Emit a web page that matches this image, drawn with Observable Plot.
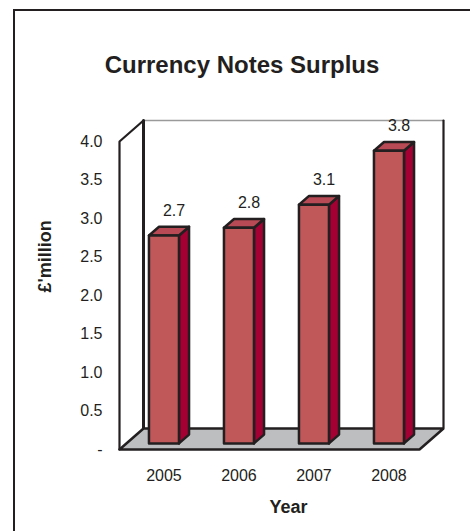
<!DOCTYPE html>
<html><head><meta charset="utf-8">
<script src="https://cdn.jsdelivr.net/npm/d3@7"></script>
<script src="https://cdn.jsdelivr.net/npm/@observablehq/plot@0.6"></script>
<style>
body{margin:0;background:#fff;}
#wrap{position:relative;width:470px;height:531px;overflow:hidden;background:#fff;}
#frame{position:absolute;left:13px;top:9px;width:600px;height:600px;border-left:2.5px solid #231F20;border-top:2.5px solid #231F20;}
#chart{position:absolute;left:0;top:0;}
</style></head><body>
<div id="wrap"><div id="frame"></div><div id="chart"></div></div>
<script>
// ---- data ----
const years = ["2005", "2006", "2007", "2008"];
const values = [2.7, 2.8, 3.1, 3.8];
const yTicks = [0, 0.5, 1, 1.5, 2, 2.5, 3, 3.5, 4];
const title = "Currency Notes Surplus";
const yLabel = "£'million";
const xLabel = "Year";

// ---- oblique 3D projection in data units ----
const DX = 0.32;   // x shift for full depth
const DY = 0.2727; // y shift for full depth
const D0 = 0.29, D1 = 0.71; // bar front / back depth
const P = (x, y, d) => ({x: x + DX * d, y: y + DY * d});
const N = years.length, YMAX = 4;

function poly(id, pts) { return [...pts, pts[0]].map(p => ({id, ...p})); }

const backWallFill = poly("bw", [P(0,0,1), P(0,YMAX,1), P(N,YMAX,1), P(N,0,1)]);
const leftWallFill = poly("lw", [P(0,0,0), P(0,YMAX,0), P(0,YMAX,1), P(0,0,1)]);
const floor = poly("fl", [P(0,0,0), P(N,0,0), P(N,0,1), P(0,0,1)]);
const backTop = [P(0,YMAX,1), P(N,YMAX,1)].map(p => ({id:"bt", ...p}));
const darkEdges = [
  ...[P(N,YMAX,1), P(N,0,1)].map(p => ({id:"br", ...p})),
  ...[P(0,0,0), P(0,YMAX,0), P(0,YMAX,1)].map(p => ({id:"lf", ...p}))
];
const backLeft = [P(0,YMAX,1), P(0,0,1)].map(p => ({id:"bl", ...p}));

const fronts = [], sides = [], tops = [];
values.forEach((v, i) => {
  const x0 = i + 0.3, x1 = i + 0.7;
  fronts.push(...poly("f"+i, [P(x0,0,D0), P(x1,0,D0), P(x1,v,D0), P(x0,v,D0)]));
  sides.push(...poly("s"+i, [P(x1,0,D0), P(x1,0,D1), P(x1,v,D1), P(x1,v,D0)]));
  tops.push(...poly("t"+i, [P(x0,v,D0), P(x1,v,D0), P(x1,v,D1), P(x0,v,D1)]));
});

const valueLabels = values.map((v, i) => ({...P(i + 0.5, v, D1), t: v.toFixed(1)}));
const yearLabels = years.map((y, i) => ({...P(i + 0.5, 0, D0), t: y}));
yearLabels.forEach(d => d.y = 0);

const ink = "#231F20";
const font = "'Liberation Sans', Arial, Helvetica, sans-serif";

const chart = Plot.plot({
  width: 470, height: 531,
  marginLeft: 119, marginRight: 51, marginTop: 141, marginBottom: 82,
  style: {fontFamily: font, fontSize: "16px", color: ink, background: "transparent", overflow: "visible"},
  x: {domain: [0, N], axis: null},
  y: {domain: [0, YMAX], axis: null},
  marks: [
    Plot.line(backWallFill, {x: "x", y: "y", z: "id", fill: "white", stroke: "none"}),
    Plot.line(leftWallFill, {x: "x", y: "y", z: "id", fill: "white", stroke: "none"}),
    Plot.line(backTop, {x: "x", y: "y", z: "id", stroke: "#9a9a9a", strokeWidth: 1.5}),
    Plot.line(darkEdges, {x: "x", y: "y", z: "id", stroke: ink, strokeWidth: 2.2, strokeLinejoin: "miter"}),
    Plot.line(backLeft, {x: "x", y: "y", z: "id", stroke: ink, strokeWidth: 3}),
    Plot.line(floor, {x: "x", y: "y", z: "id", fill: "#BDBEC0", stroke: ink, strokeWidth: 2.5, strokeLinejoin: "miter"}),
    Plot.line(sides, {x: "x", y: "y", z: "id", fill: "#A50034", stroke: ink, strokeWidth: 2.5, strokeLinejoin: "round"}),
    Plot.line(tops, {x: "x", y: "y", z: "id", fill: "#B84A55", stroke: ink, strokeWidth: 2.5, strokeLinejoin: "round"}),
    Plot.line(fronts, {x: "x", y: "y", z: "id", fill: "#C0585A", stroke: ink, strokeWidth: 2.5, strokeLinejoin: "round"}),
    Plot.axisY({ticks: yTicks, tickFormat: d => d === 0 ? "-" : d.toFixed(1), tickSize: 0, tickPadding: 17, fontSize: 16, label: null}),
    Plot.text(valueLabels, {x: "x", y: "y", text: "t", dy: -16, fontSize: 16, fill: ink}),
    Plot.text(yearLabels, {x: "x", y: "y", text: "t", dy: 26, fontSize: 16, fill: ink}),
    Plot.text([xLabel], {frameAnchor: "bottom", text: d => d, dx: 19, dy: 63, fontSize: 18, fontWeight: "bold", fill: ink}),
    Plot.text([yLabel], {frameAnchor: "left", text: d => d, rotate: -90, dx: -74, dy: -3, fontSize: 18, fontWeight: "bold", fill: ink}),
    Plot.text([title], {frameAnchor: "top", text: d => d, dx: -27.5, dy: -86, fontSize: 24, fontWeight: "bold", fill: ink})
  ]
});
document.getElementById("chart").appendChild(chart);
</script>
</body></html>
